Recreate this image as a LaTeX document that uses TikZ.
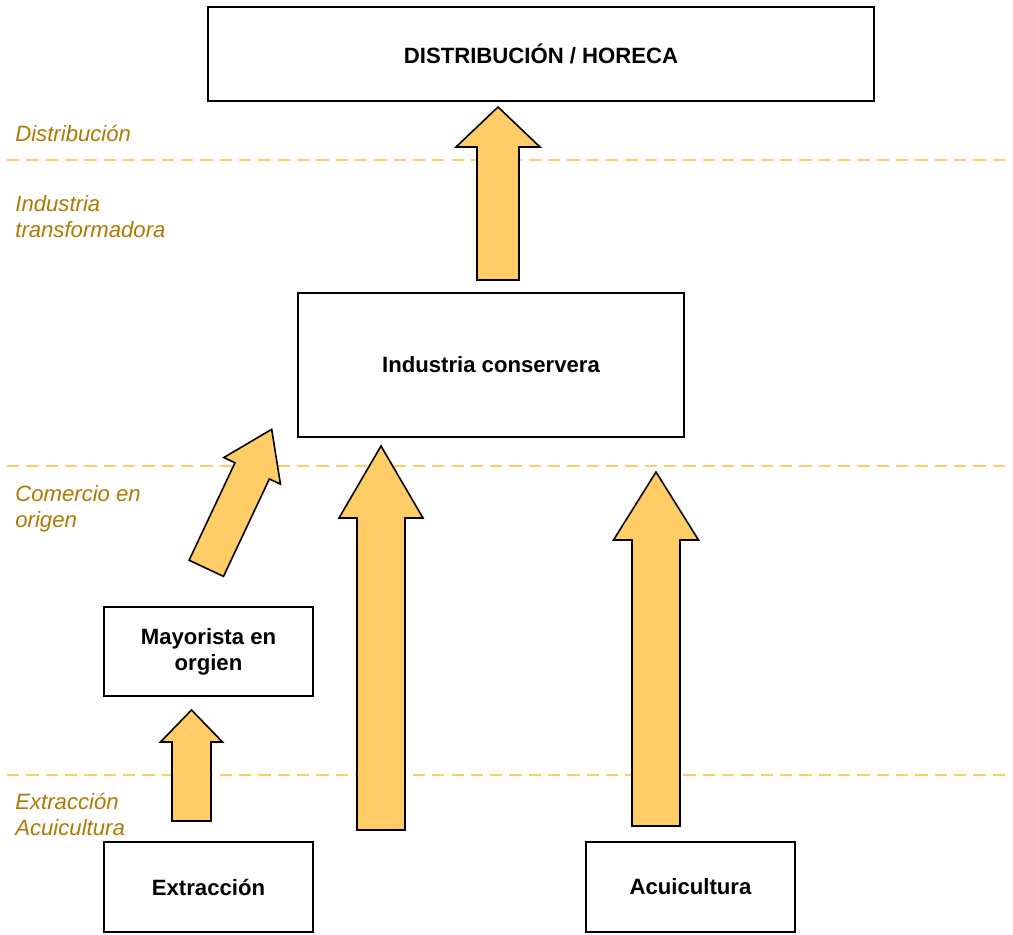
\documentclass[tikz,border=0pt]{standalone}
\usepackage{fontspec}
\setmainfont{Liberation Sans}
\usetikzlibrary{positioning}
\definecolor{naranja}{HTML}{FFCC66}
\definecolor{ocre}{HTML}{B07800}
% block arrow: base x, base y, angle, length, shaft width, head width, head length
\newcommand{\flecha}[7]{%
    \draw[flechas,shift={(#1,#2)},rotate=#3] (0,-#5/2) -- (#4-#7,-#5/2) -- (#4-#7,-#6/2)
        -- (#4,0) -- (#4-#7,#6/2) -- (#4-#7,#5/2) -- (0,#5/2) -- cycle;}

\begin{document}
\begin{tikzpicture}[x=0.02cm,y=-0.02cm,
    caja/.style={draw,line width=1pt,fill=white,align=center,font=\fontsize{12.6}{14.7}\selectfont\bfseries},
    etapa/.style={anchor=north west,inner sep=0pt,align=left,text=ocre,font=\fontsize{12.6}{14.7}\selectfont\itshape},
    guia/.style={draw=naranja,line width=1.2pt,dash pattern=on 7 off 4},
    flechas/.style={draw=black,line width=0.9pt,fill=naranja,line join=miter}]
    \useasboundingbox (0,0) rectangle (1013,935);

    % stage separators
    \draw[guia] (7,160) -- (1010,160);
    \draw[guia] (7,466) -- (1010,466);
    \draw[guia] (7,775) -- (1010,775);

    % stage labels
    \node[etapa] (distr) at (15,125) {Distribución};
    \node[etapa] (transf) at (15,195) {Industria\\transformadora};
    \node[etapa] (comercio) at (15,485) {Comercio en\\origen};
    \node[etapa] (extrac) at (15,793) {Extracción\\Acuicultura};

    % boxes
    \node[caja,minimum width=13.32cm,minimum height=1.88cm] (horeca) at (541,54) {DISTRIBUCIÓN / HORECA};
    \node[caja,minimum width=7.72cm,minimum height=2.88cm] (conservera) at (491,365) {Industria conservera};
    \node[caja,minimum width=4.18cm,minimum height=1.78cm] (mayorista) at (208.5,651.5) {Mayorista en\\orgien};
    \node[caja,minimum width=4.18cm,minimum height=1.8cm] (extraccion) at (208.5,887) {Extracción};
    \node[caja,minimum width=4.18cm,minimum height=1.8cm] (acuicultura) at (690.5,887) {Acuicultura};

    % flows
    \flecha{498}{280}{90}{173}{42}{84}{40}
    \flecha{381}{830}{90}{384}{48}{84}{72}
    \flecha{656}{826}{90}{354}{48}{85}{68}
    \flecha{191.5}{821}{90}{111}{39}{62}{32}
    \flecha{206.3}{568.3}{64.8}{153.6}{38}{62.6}{45.9}
\end{tikzpicture}
\end{document}
